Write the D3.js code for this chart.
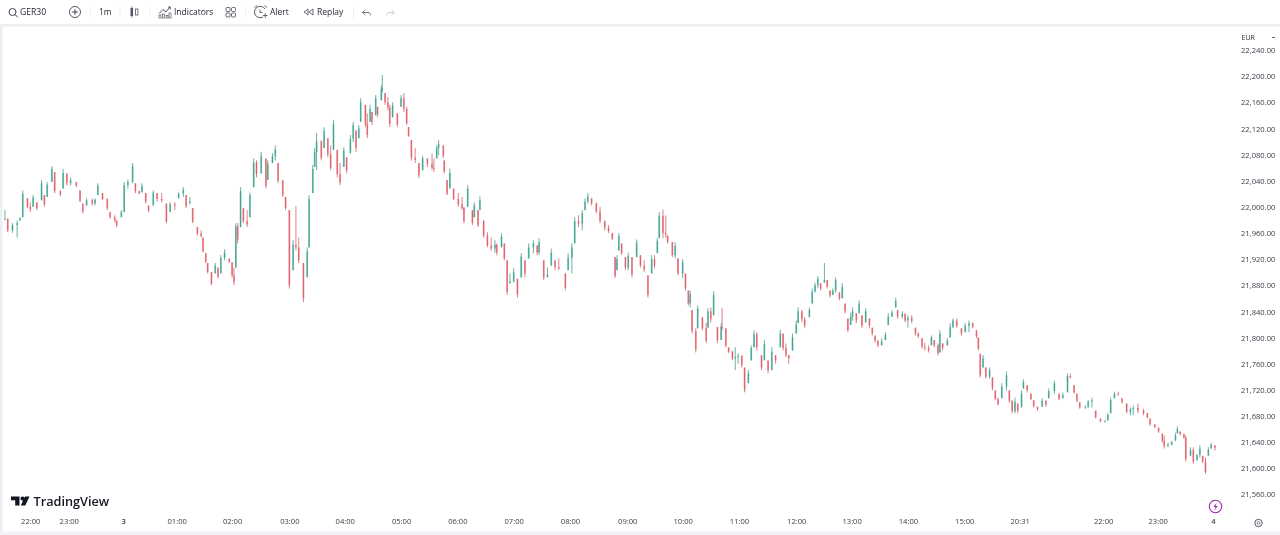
<!DOCTYPE html>
<html><head><meta charset="utf-8">
<script src="https://cdn.jsdelivr.net/npm/d3@7/dist/d3.min.js"></script>
<style>html,body{margin:0;padding:0;background:#fff;overflow:hidden}svg{display:block;font-family:"Open Sans","Noto Sans",sans-serif}</style>
</head><body><svg id="c" width="1280" height="535"></svg>
<script>
const barMinutes=[1,4,9,14,17,20,25,28,31,35,40,43,46,51,54,60,63,67,71,77,81,84,88,94,97,100,105,110,113,118,120,125,128,132,137,140,144,147,151,154,159,163,168,173,177,182,186,191,194,198,201,206,210,212,215,217,221,225,228,231,235,240,243,245,247,249,252,255,259,262,266,269,274,279,281,286,289,292,297,300,304,308,311,314,319,323,325,329,331,333,338,341,345,348,351,355,358,362,365,369,372,375,378,380,385,387,390,392,396,398,402,403,406,409,411,414,419,423,426,429,431,434,438,442,446,451,456,458,461,463,468,469,472,475,479,484,488,490,494,499,501,505,507,511,515,519,523,525,530,533,536,539,543,547,551,555,559,564,568,570,575,579,583,587,591,598,601,605,608,612,616,619,622,626,631,635,640,644,648,651,653,655,658,662,665,669,674,678,682,686,690,693,696,698,702,705,707,712,715,718,723,726,729,731,733,737,739,744,748,750,753,756,760,764,765,769,772,776,779,782,786,789,793,796,799,802,807,810,814,818,822,827,830,833,836,840,844,846,850,853,858,861,864,867,870,874,877,880,883,886,890,893,896,899,902,904,908,911,914,918,922,925,928,931,935,939,942,946,950,952,957,960,963,967,971,974,978,981,985,988,991,995,997,1000,1005,1008,1011,1015,1020,1024,1028,1032,1036,1038,1040,1043,1046,1050,1053,1056,1059,1063,1068,1071,1074,1077,1080,1084,1086,1090,1094,1097,1101,1106,1110,1113,1119,1124,1128,1133,1136,1140,1143,1146,1152,1155,1159,1163,1168,1173,1176,1179,1183,1187,1191,1196,1200,1203,1208,1214,1218,1221,1226,1230,1234,1236,1240,1244,1248,1250,1253,1257,1259,1264,1267,1271,1274,1277,1280,1283,1286,1290];
const highs=[21995,21982,21975,21979,21984,22025,22013,22007,22018,22007,22041,22018,22038,22062,22053,22025,22058,22051,22045,22038,22025,22005,22013,22013,22013,22036,22021,22013,21992,21987,21979,21995,22038,22042,22067,22036,22025,22036,22021,22002,22025,22021,22021,22005,22007,22007,22022,22030,22018,22015,21998,21969,21964,21953,21929,21914,21900,21914,21907,21926,21935,21921,21915,21907,21975,21975,22030,21998,21995,22022,22074,22071,22084,22074,22071,22082,22094,22067,22041,22015,21995,21949,22001,21953,21914,21938,22018,22064,22090,22113,22102,22122,22105,22094,22133,22087,22067,22091,22076,22110,22130,22117,22125,22166,22156,22143,22156,22145,22171,22153,22186,22202,22174,22168,22156,22160,22143,22171,22174,22153,22122,22102,22090,22067,22078,22074,22082,22074,22094,22102,22094,22071,22041,22059,22028,22021,22015,22000,22033,21995,22007,21995,22016,21979,21961,21953,21949,21944,21959,21944,21918,21898,21906,21890,21929,21918,21944,21949,21941,21952,21918,21907,21936,21918,21921,21898,21929,21944,21984,21987,21995,22013,22021,22013,22007,22000,21979,21972,21960,21923,21926,21960,21944,21923,21930,21923,21950,21926,21918,21895,21926,21926,21952,21992,21996,21987,21956,21946,21946,21921,21920,21898,21872,21872,21842,21814,21849,21831,21823,21845,21846,21871,21816,21822,21845,21814,21785,21780,21785,21776,21773,21754,21750,21788,21811,21808,21773,21796,21765,21785,21773,21812,21806,21791,21773,21806,21826,21846,21842,21831,21846,21875,21884,21894,21883,21914,21888,21872,21875,21892,21869,21883,21852,21829,21838,21846,21837,21857,21834,21845,21829,21815,21803,21796,21799,21808,21837,21842,21861,21842,21840,21837,21834,21834,21815,21808,21799,21792,21788,21803,21796,21791,21811,21791,21799,21822,21829,21829,21814,21822,21826,21823,21811,21800,21775,21773,21754,21754,21739,21719,21708,21730,21748,21719,21704,21708,21699,21719,21736,21727,21714,21704,21694,21707,21704,21722,21734,21714,21716,21745,21745,21727,21714,21701,21696,21704,21708,21688,21676,21674,21684,21708,21717,21717,21707,21699,21693,21696,21699,21691,21685,21676,21667,21662,21653,21650,21639,21642,21654,21664,21656,21653,21650,21632,21632,21622,21635,21619,21616,21632,21639,21635];
const lows=[21979,21961,21960,21953,21979,21984,21998,21992,22000,21995,22010,22000,22015,22038,22021,22016,22028,22033,22033,22030,22007,21990,22002,22002,22002,22018,22010,21995,21982,21976,21969,21984,21992,22028,22036,22021,22019,22022,22005,21992,22002,22008,22007,21975,21992,21995,22013,22015,21998,22005,21975,21956,21953,21930,21914,21898,21880,21898,21890,21898,21918,21914,21892,21880,21907,21944,21969,21975,21969,21984,22030,22045,22051,22028,22041,22067,22071,22036,22015,21995,21875,21903,21933,21914,21854,21892,21938,22021,22061,22056,22071,22090,22076,22056,22087,22045,22033,22061,22051,22082,22099,22084,22105,22130,22122,22105,22130,22125,22140,22137,22163,22176,22156,22148,22122,22137,22122,22153,22145,22125,22107,22071,22067,22044,22056,22061,22056,22053,22074,22079,22074,22051,22018,22028,22010,22000,21995,21975,22000,21972,21984,21969,21995,21953,21938,21933,21930,21926,21938,21918,21865,21883,21884,21861,21892,21892,21921,21929,21926,21926,21888,21892,21910,21903,21903,21872,21903,21898,21944,21969,21964,21995,22005,22002,21990,21975,21964,21960,21949,21891,21903,21933,21926,21903,21903,21892,21923,21907,21900,21861,21898,21906,21929,21952,21952,21953,21944,21923,21921,21895,21891,21872,21849,21846,21806,21777,21814,21811,21791,21815,21823,21834,21791,21796,21811,21785,21776,21765,21750,21760,21754,21716,21730,21765,21785,21780,21750,21765,21745,21750,21760,21785,21780,21770,21760,21780,21806,21822,21823,21814,21831,21852,21869,21875,21872,21884,21875,21861,21865,21868,21857,21860,21837,21808,21819,21826,21822,21837,21814,21823,21814,21803,21792,21785,21788,21796,21819,21831,21846,21829,21829,21823,21815,21822,21803,21799,21783,21780,21777,21788,21785,21773,21777,21780,21788,21800,21814,21815,21803,21808,21808,21814,21799,21780,21739,21754,21737,21737,21719,21704,21696,21707,21719,21700,21684,21684,21684,21693,21722,21716,21704,21693,21688,21694,21694,21707,21714,21704,21707,21716,21737,21714,21701,21691,21691,21693,21693,21676,21670,21670,21673,21684,21707,21711,21699,21684,21681,21681,21684,21681,21676,21665,21661,21654,21639,21630,21632,21635,21642,21653,21650,21645,21610,21619,21607,21612,21616,21608,21591,21619,21630,21627];
const closes=[21982,21964,21972,21975,21982,22020,22000,21996,22014,21998,22036,22004,22034,22058,22024,22019,22052,22036,22041,22032,22009,21993,22010,22005,22011,22032,22012,21998,21984,21979,21971,21992,22033,22038,22062,22024,22021,22032,22008,21994,22022,22012,22010,21977,22004,22002,22020,22026,22001,22008,21977,21959,21955,21932,21916,21900,21882,21910,21893,21922,21930,21916,21895,21885,21970,21950,22024,21978,21973,22018,22068,22050,22078,22032,22066,22077,22088,22040,22018,21998,21880,21942,21938,21918,21860,21932,22012,22058,22084,22100,22075,22116,22080,22060,22126,22050,22037,22086,22056,22104,22125,22090,22120,22160,22127,22110,22150,22130,22166,22142,22180,22182,22160,22152,22127,22155,22126,22166,22150,22128,22109,22075,22072,22048,22074,22066,22060,22058,22090,22096,22078,22054,22020,22052,22012,22004,21998,21978,22028,21975,22002,21972,22010,21956,21941,21936,21942,21930,21954,21921,21870,21886,21900,21866,21924,21898,21938,21944,21930,21946,21892,21896,21930,21908,21906,21876,21922,21938,21978,21974,21990,22008,22016,22005,21993,21978,21968,21963,21951,21894,21920,21955,21929,21907,21925,21896,21945,21910,21904,21865,21920,21910,21948,21986,21960,21958,21946,21926,21940,21898,21915,21875,21852,21866,21810,21782,21844,21814,21795,21840,21828,21865,21796,21816,21815,21788,21778,21768,21770,21772,21758,21720,21745,21784,21805,21785,21754,21790,21750,21778,21765,21806,21784,21773,21768,21800,21820,21840,21828,21818,21842,21870,21880,21890,21875,21888,21878,21864,21872,21888,21860,21878,21840,21811,21832,21840,21826,21852,21818,21840,21818,21806,21795,21788,21794,21804,21832,21838,21856,21832,21836,21826,21830,21825,21806,21802,21786,21784,21780,21800,21788,21776,21806,21784,21795,21816,21826,21818,21806,21818,21822,21816,21802,21783,21742,21768,21740,21750,21722,21706,21698,21725,21742,21703,21687,21702,21688,21714,21732,21719,21706,21695,21690,21703,21697,21718,21730,21706,21712,21741,21739,21716,21703,21693,21693,21702,21704,21678,21672,21672,21682,21704,21714,21713,21701,21686,21690,21692,21688,21684,21678,21667,21663,21656,21642,21634,21636,21640,21650,21660,21652,21647,21614,21628,21610,21620,21630,21610,21594,21628,21636,21631];
const priceTicks=[22240,22200,22160,22120,22080,22040,22000,21960,21920,21880,21840,21800,21760,21720,21680,21640,21600,21560];
const timeLabels=["22:00","23:00","3","01:00","02:00","03:00","04:00","05:00","06:00","07:00","08:00","09:00","10:00","11:00","12:00","13:00","14:00","15:00","20:31","22:00","23:00","4"];
const timeBars=[28,69,127,184,243,304,363,423,483,543,603,664,723,783,844,903,963,1023,1082,1171,1229,1288];
const UP="#089981",DOWN="#f23645",TXT="#3a3e49";
const x=d3.scaleLinear().domain([0,1290]).range([4,1214.9]);
const y=d3.scaleLinear().domain([21560,22240]).range([494.3,50]);
const svg=d3.select("#c").style("filter","blur(0.25px)");
svg.append("rect").attr("width",1280).attr("height",535).attr("fill","#fff");
svg.append("rect").attr("x",0).attr("y",24).attr("width",1280).attr("height",2.5).attr("fill","#eceef2");
svg.append("rect").attr("x",0).attr("y",26).attr("width",2.5).attr("height",509).attr("fill","#eceef2");
svg.append("rect").attr("x",0).attr("y",531.5).attr("width",1280).attr("height",3.5).attr("fill","#f2f3f6");
const candles=barMinutes.map((m,i)=>({m,h:highs[i],l:lows[i],c:closes[i],o:i?closes[i-1]:closes[i]}));
const plot=svg.append("g").style("filter","blur(0.4px)");
const g=plot.selectAll("g").data(candles).join("g");
const col=d=>d.c>=d.o?UP:DOWN;
const bodyTop=d=>Math.min(d.h,Math.max(d.o,d.c));
const bodyBot=d=>Math.max(d.l,Math.min(d.o,d.c));
g.append("rect").attr("x",d=>x(d.m)-.9).attr("width",1.8).attr("y",d=>y(bodyTop(d))).attr("height",d=>Math.max(.8,y(bodyBot(d))-y(bodyTop(d)))).attr("fill",col).attr("fill-opacity",.5);
g.append("line").attr("x1",d=>x(d.m)).attr("x2",d=>x(d.m)).attr("y1",d=>y(d.h)).attr("y2",d=>y(d.l)).attr("stroke",d=>d3.interpolateRgb(col(d),"#666")(.3)).attr("stroke-width",.9).attr("stroke-opacity",.75);
const pa=d3.axisRight(y).tickValues(priceTicks).tickFormat(d3.format(",.2f")).tickSize(0).tickPadding(0);
const pg=svg.append("g").attr("transform","translate(1241,0)").call(pa);
pg.select(".domain").remove();
pg.selectAll("text").attr("fill",TXT).attr("font-size",7.6).attr("font-family","'Open Sans',sans-serif").attr("dy","0.35em");
const ta=d3.axisBottom(x).tickValues(timeBars).tickFormat((d,i)=>timeLabels[i]).tickSize(0).tickPadding(0);
const tg=svg.append("g").attr("transform","translate(0,518.5)").call(ta);
tg.select(".domain").remove();
tg.selectAll("text").attr("fill",TXT).attr("font-size",7.6).attr("font-family","'Open Sans',sans-serif").attr("dy","0.71em");
tg.selectAll("text").filter((d,i)=>timeLabels[i].length===1).attr("font-weight",600);
const T=(s,px,py,o={})=>svg.append("text").text(s).attr("x",px).attr("y",py).attr("font-size",o.fs||8.5).attr("font-weight",o.fw||400).attr("fill",o.fill||"#1e222d").attr("text-anchor",o.a||"start");
T("GER30",20,15,{fw:500,fs:8.6});T("1m",99,15);T("Indicators",174,15);T("Alert",270,15);T("Replay",317,15);
const S=(d,w=1,c="#3a3f4b")=>svg.append("path").attr("d",d).attr("fill","none").attr("stroke",c).attr("stroke-width",w);
S("M15 14.5L17.8 17.3");svg.append("circle").attr("cx",12.5).attr("cy",12).attr("r",3.5).attr("fill","none").attr("stroke","#3a3f4b");
svg.append("circle").attr("cx",75).attr("cy",12).attr("r",5.5).attr("fill","none").attr("stroke","#555a66");S("M72.3 12H77.7M75 9.3V14.7");
[90,119.5,149.5,245,353].forEach(v=>svg.append("rect").attr("x",v).attr("y",6).attr("width",1).attr("height",13).attr("fill","#f0f1f4"));
svg.append("rect").attr("x",130.5).attr("y",8).attr("width",2.6).attr("height",8).attr("fill","#555a66");S("M131.8 6.5V17.5",.8,"#555a66");
svg.append("rect").attr("x",135.5).attr("y",9).attr("width",2.4).attr("height",6).attr("fill","#fff").attr("stroke","#555a66").attr("stroke-width",.8);
S("M159 13.5L163 9.5L166 12L170 7",.9);S("M168 7H170.3V9.3",.8);
[[159,15,2,3],[162.5,14,2,4],[166,15.5,2,2.5],[169,13,2,5]].forEach(a=>svg.append("rect").attr("x",a[0]).attr("y",a[1]).attr("width",a[2]).attr("height",a[3]).attr("fill","#fff").attr("stroke","#555a66").attr("stroke-width",.7));
[[226,7.5],[231.5,7.5],[226,13],[231.5,13]].forEach(a=>svg.append("rect").attr("x",a[0]).attr("y",a[1]).attr("width",4).attr("height",4).attr("rx",1).attr("fill","none").attr("stroke","#555a66").attr("stroke-width",.9));
svg.append("path").attr("d","M263 17A5.7 5.7 0 1 1 265 9").attr("fill","none").attr("stroke","#555a66");
S("M254.5 7.5L257 5.5M264.5 5.5L267 7.5M260 9.5V12.5H262.5M263 15.5H267.5M265.2 13.2V17.8",.9,"#555a66");
S("M308 9L304 12L308 15ZM313 9L309 12L313 15Z",.9,"#555a66");
S("M362.5 12.5H368C370 12.5 370.5 14 370.5 15.5M362.5 12.5L365.3 9.8M362.5 12.5L365.3 15",.9,"#666b76");
S("M394.5 12.5H389C387 12.5 386.5 14 386.5 15.5M394.5 12.5L391.7 9.8M394.5 12.5L391.7 15",.9,"#c9ccd2");
svg.append("rect").attr("x",1237).attr("y",30).attr("width",41).attr("height",14).attr("rx",2).attr("fill","#fff");
T("EUR",1241.5,40.3,{fs:7});S("M1272 37.5H1275",.9,"#555a66");
const L=svg.append("g").attr("fill","#131722");
L.append("path").attr("d","M11 496.5H19.5V505.5H15.2V500.3H11Z");
L.append("circle").attr("cx",22.6).attr("cy",498.6).attr("r",2.1);
L.append("path").attr("d","M25 496.5H29.5L25.3 505.5H20.8Z");
T("TradingView",33.5,505.8,{fs:12.7,fw:600,fill:"#131722"});
svg.append("circle").attr("cx",1215.5).attr("cy",506.5).attr("r",6.2).attr("fill","#fff").attr("stroke","#9c27b0").attr("stroke-width",1.1);
svg.append("path").attr("d","M1216.8 502.8L1213.4 507H1215.6L1214.4 510.2L1217.8 506H1215.6Z").attr("fill","#9c27b0");
svg.append("circle").attr("cx",1258.5).attr("cy",523).attr("r",3.7).attr("fill","none").attr("stroke","#555a66");
svg.append("circle").attr("cx",1258.5).attr("cy",523).attr("r",1.4).attr("fill","none").attr("stroke","#555a66").attr("stroke-width",.7);
</script></body></html>
